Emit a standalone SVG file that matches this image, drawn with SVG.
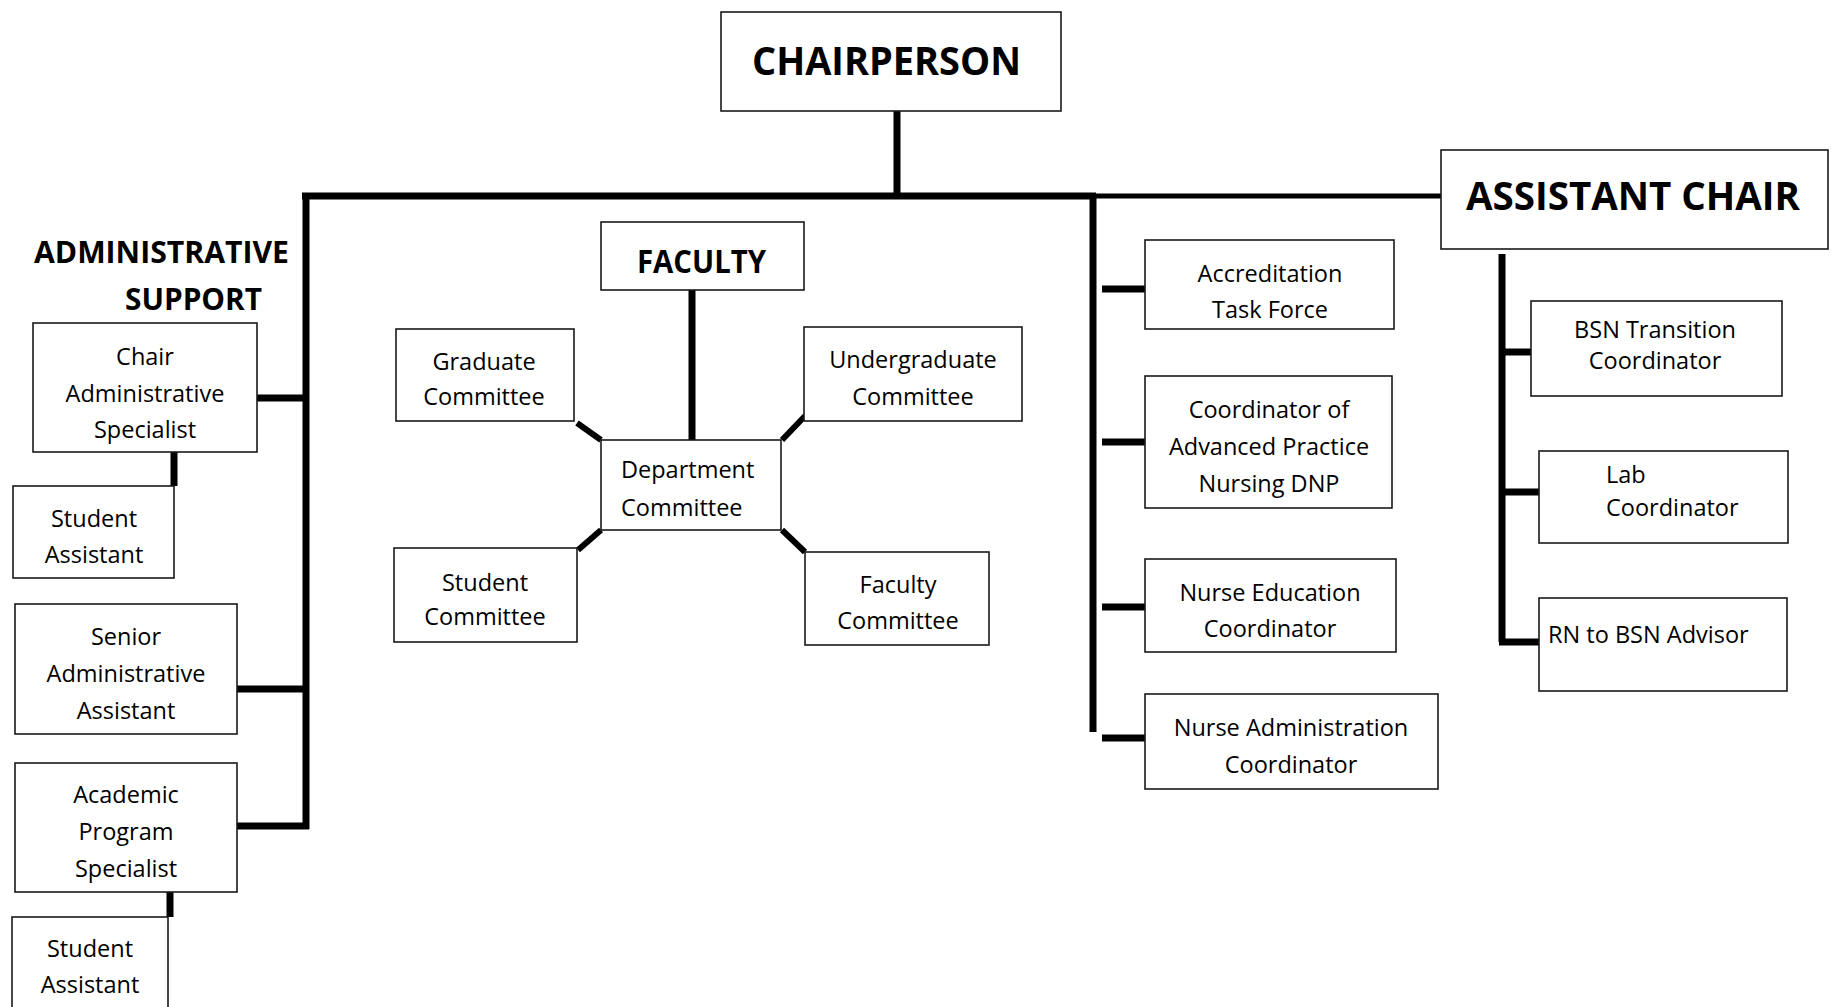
<svg xmlns="http://www.w3.org/2000/svg" width="1833" height="1007" viewBox="0 0 1833 1007">
<style>
.box{fill:#fff;stroke:#1a1a1a;stroke-width:1.6}
.t{font-family:"Open Sans","Liberation Sans",sans-serif;font-size:23.5px;fill:#000;text-anchor:middle}
.tl{font-family:"Open Sans","Liberation Sans",sans-serif;font-size:23.5px;fill:#000}
.h{font-family:"Open Sans","Liberation Sans",sans-serif;font-weight:bold;fill:#000}
.c{stroke:#000;stroke-width:7;fill:none}
.c5{stroke:#000;stroke-width:5;fill:none}
.d{stroke:#000;stroke-width:6;fill:none}
</style>
<rect width="1833" height="1007" fill="#fff"/>
<g id="connectors">
  <line class="c" x1="897" y1="111" x2="897" y2="197"/>
  <line class="c" x1="302" y1="196" x2="1096" y2="196"/>
  <line class="c5" x1="1093" y1="196" x2="1441" y2="196"/>
  <line class="c" x1="306" y1="193" x2="306" y2="829"/>
  <line class="c" x1="257" y1="398" x2="309" y2="398"/>
  <line class="c" x1="174" y1="452" x2="174" y2="486"/>
  <line class="c" x1="237" y1="689" x2="309" y2="689"/>
  <line class="c" x1="237" y1="826" x2="309" y2="826"/>
  <line class="c" x1="170" y1="892" x2="170" y2="917"/>
  <line class="c" x1="692" y1="290" x2="692" y2="440"/>
  <line class="d" x1="577" y1="423" x2="601" y2="440"/>
  <line class="d" x1="805" y1="416" x2="782" y2="440"/>
  <line class="d" x1="578" y1="550" x2="601" y2="530"/>
  <line class="d" x1="782" y1="530" x2="805" y2="552"/>
  <line class="c" x1="1093" y1="196" x2="1093" y2="732"/>
  <line class="c" x1="1102" y1="289" x2="1145" y2="289"/>
  <line class="c" x1="1102" y1="442" x2="1145" y2="442"/>
  <line class="c" x1="1102" y1="607" x2="1145" y2="607"/>
  <line class="c" x1="1102" y1="738" x2="1145" y2="738"/>
  <line class="c" x1="1502" y1="254" x2="1502" y2="642"/>
  <line class="c" x1="1502" y1="352" x2="1531" y2="352"/>
  <line class="c" x1="1502" y1="492" x2="1539" y2="492"/>
  <line class="c" x1="1499" y1="642" x2="1539" y2="642"/>
</g>
<g id="chairperson">
  <rect class="box" x="721" y="12" width="340" height="99"/>
  <text class="h" x="752" y="75" font-size="40" textLength="269" lengthAdjust="spacingAndGlyphs">CHAIRPERSON</text>
</g>
<g id="assistant-chair">
  <rect class="box" x="1441" y="150" width="387" height="99"/>
  <text class="h" x="1466" y="210" font-size="39" textLength="334" lengthAdjust="spacingAndGlyphs">ASSISTANT CHAIR</text>
</g>
<g id="administrative-support">
  <text class="h" x="34" y="263" font-size="29.5" textLength="255" lengthAdjust="spacingAndGlyphs">ADMINISTRATIVE</text>
  <text class="h" x="125" y="310" font-size="29.5" textLength="137" lengthAdjust="spacingAndGlyphs">SUPPORT</text>
</g>
<g id="chair-admin-specialist">
  <rect class="box" x="33" y="323" width="224" height="129"/>
  <text class="t" x="145" y="365">Chair</text>
  <text class="t" x="145" y="402">Administrative</text>
  <text class="t" x="145" y="438">Specialist</text>
</g>
<g id="student-assistant-1">
  <rect class="box" x="13" y="486" width="161" height="92"/>
  <text class="t" x="94" y="527">Student</text>
  <text class="t" x="94" y="563">Assistant</text>
</g>
<g id="senior-admin-assistant">
  <rect class="box" x="15" y="604" width="222" height="130"/>
  <text class="t" x="126" y="645">Senior</text>
  <text class="t" x="126" y="682">Administrative</text>
  <text class="t" x="126" y="719">Assistant</text>
</g>
<g id="academic-program-specialist">
  <rect class="box" x="15" y="763" width="222" height="129"/>
  <text class="t" x="126" y="803">Academic</text>
  <text class="t" x="126" y="840">Program</text>
  <text class="t" x="126" y="877">Specialist</text>
</g>
<g id="student-assistant-2">
  <rect class="box" x="12" y="917" width="156" height="110"/>
  <text class="t" x="90" y="957">Student</text>
  <text class="t" x="90" y="993">Assistant</text>
</g>
<g id="faculty">
  <rect class="box" x="601" y="222" width="203" height="68"/>
  <text class="h" x="637" y="273" font-size="32" textLength="129" lengthAdjust="spacingAndGlyphs">FACULTY</text>
</g>
<g id="graduate-committee">
  <rect class="box" x="396" y="329" width="178" height="92"/>
  <text class="t" x="484" y="370">Graduate</text>
  <text class="t" x="484" y="405">Committee</text>
</g>
<g id="undergraduate-committee">
  <rect class="box" x="804" y="327" width="218" height="94"/>
  <text class="t" x="913" y="368">Undergraduate</text>
  <text class="t" x="913" y="405">Committee</text>
</g>
<g id="department-committee">
  <rect class="box" x="601" y="440" width="180" height="90"/>
  <text class="tl" x="621" y="478">Department</text>
  <text class="tl" x="621" y="516">Committee</text>
</g>
<g id="student-committee">
  <rect class="box" x="394" y="548" width="183" height="94"/>
  <text class="t" x="485" y="591">Student</text>
  <text class="t" x="485" y="625">Committee</text>
</g>
<g id="faculty-committee">
  <rect class="box" x="805" y="552" width="184" height="93"/>
  <text class="t" x="898" y="593">Faculty</text>
  <text class="t" x="898" y="629">Committee</text>
</g>
<g id="accreditation-task-force">
  <rect class="box" x="1145" y="240" width="249" height="89"/>
  <text class="t" x="1270" y="282">Accreditation</text>
  <text class="t" x="1270" y="318">Task Force</text>
</g>
<g id="coordinator-apn-dnp">
  <rect class="box" x="1145" y="376" width="247" height="132"/>
  <text class="t" x="1269" y="418">Coordinator of</text>
  <text class="t" x="1269" y="455">Advanced Practice</text>
  <text class="t" x="1269" y="492">Nursing DNP</text>
</g>
<g id="nurse-education-coordinator">
  <rect class="box" x="1145" y="559" width="251" height="93"/>
  <text class="t" x="1270" y="601">Nurse Education</text>
  <text class="t" x="1270" y="637">Coordinator</text>
</g>
<g id="nurse-administration-coordinator">
  <rect class="box" x="1145" y="694" width="293" height="95"/>
  <text class="t" x="1291" y="736">Nurse Administration</text>
  <text class="t" x="1291" y="773">Coordinator</text>
</g>
<g id="bsn-transition-coordinator">
  <rect class="box" x="1531" y="301" width="251" height="95"/>
  <text class="t" x="1655" y="338">BSN Transition</text>
  <text class="t" x="1655" y="369">Coordinator</text>
</g>
<g id="lab-coordinator">
  <rect class="box" x="1539" y="451" width="249" height="92"/>
  <text class="tl" x="1606" y="483">Lab</text>
  <text class="tl" x="1606" y="516">Coordinator</text>
</g>
<g id="rn-to-bsn-advisor">
  <rect class="box" x="1539" y="598" width="248" height="93"/>
  <text class="tl" x="1548" y="643">RN to BSN Advisor</text>
</g>
</svg>
